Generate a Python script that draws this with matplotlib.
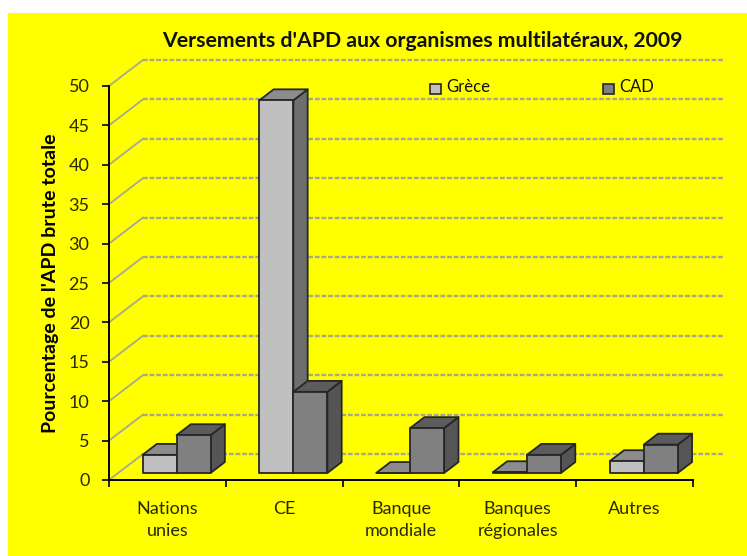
import numpy as np
import matplotlib
matplotlib.use("Agg")
import matplotlib.pyplot as plt
from matplotlib.patches import Polygon, Rectangle

categories = ["Nations\nunies", "CE", "Banque\nmondiale", "Banques\nrégionales", "Autres"]
grece = [2.3, 47.3, 0.0, 0.1, 1.5]
cad = [4.8, 10.3, 5.7, 2.3, 3.6]
yticks = list(range(0, 55, 5))

W, H = 747, 556
plt.rcParams["font.family"] = ["Lato", "DejaVu Sans"]

fig = plt.figure(figsize=(W / 100, H / 100), dpi=100, facecolor="white")
fig.add_artist(Rectangle((8 / W, 0), (W - 8) / W, (H - 13) / H, transform=fig.transFigure,
                         facecolor="#ffff00", edgecolor="none", zorder=-1))

# axis box in pixels: x 109-693, y 86-480
ax = fig.add_axes([109 / W, 1 - 480 / H, 584 / W, 394 / H])
ax.set_xlim(0, 5)
ax.set_ylim(0, 50)
ax.patch.set_alpha(0)

# depth of the fake 3D box, in data units
dx = 34 / 116.8
dy = 26 / 7.88
bar_w = 34 / 116.8
front = 0.27
back = 0.69

# walls
for v in yticks:
    ax.plot([0, dx], [v, v + dy], color="#a8a890", lw=1.3, clip_on=False, zorder=1)
    ax.plot([dx, 5.26], [v + dy, v + dy], color="#a8a890", lw=1.7, ls=(0, (2.0, 0.8)),
            clip_on=False, zorder=1)


def draw_bar(x0, h, c_front, c_top, c_side, z):
    x1 = x0 + bar_w
    fx, fy = dx * front, dy * front
    bx, by = dx * back, dy * back
    kw = dict(edgecolor="#262626", lw=1.3, joinstyle="round", clip_on=False, zorder=z)
    ax.add_patch(Polygon([(x1 + fx, fy), (x1 + bx, by), (x1 + bx, by + h), (x1 + fx, fy + h)],
                         facecolor=c_side, **kw))
    ax.add_patch(Polygon([(x0 + fx, fy + h), (x1 + fx, fy + h), (x1 + bx, by + h), (x0 + bx, by + h)],
                         facecolor=c_top, **kw))
    ax.add_patch(Polygon([(x0 + fx, fy), (x1 + fx, fy), (x1 + fx, fy + h), (x0 + fx, fy + h)],
                         facecolor=c_front, **kw))


for i in range(len(categories)):
    left = i + 0.5 - bar_w
    draw_bar(left, grece[i], "#c0c0c0", "#8c8c8c", "#6e6e6e", 3 + i)
    draw_bar(left + bar_w, cad[i], "#808080", "#5c5c5c", "#555555", 3.5 + i)

for s in ["top", "right"]:
    ax.spines[s].set_visible(False)
for s in ["left", "bottom"]:
    ax.spines[s].set_linewidth(1.4)
    ax.spines[s].set_color("black")

ax.set_yticks(yticks)
ax.tick_params(axis="y", length=5, width=1.2, direction="out", labelsize=13, pad=9,
               labelcolor="#2a2a00")
ax.set_xticks(range(6))
ax.set_xticklabels([])
ax.tick_params(axis="x", length=5, width=1.2, direction="out")

for i, c in enumerate(categories):
    ax.text(i + 0.5, -2.7, c, ha="center", va="top", fontsize=13, color="#2a2a00",
            linespacing=1.45, clip_on=False)

ax.set_ylabel("Pourcentage de l'APD brute totale", fontsize=14, fontweight="bold")
ax.yaxis.set_label_coords(-50 / 584, 0.5)

fig.text(422 / W, 1 - 41 / H, "Versements d'APD aux organismes multilatéraux, 2009",
         ha="center", va="center", fontsize=15.3, fontweight="bold", color="#111111")

# legend
for px, col, name in [(430, "#c0c0c0", "Grèce"), (603, "#808080", "CAD")]:
    fig.add_artist(Rectangle((px / W, 1 - 94 / H), 11 / W, 10 / H, transform=fig.transFigure,
                             facecolor=col, edgecolor="#262626", lw=1.2))
    fig.text((px + 16) / W, 1 - 87.5 / H, name, ha="left", va="center", fontsize=12, color="#111111")

fig.savefig("out.png", dpi=100, facecolor="white")
